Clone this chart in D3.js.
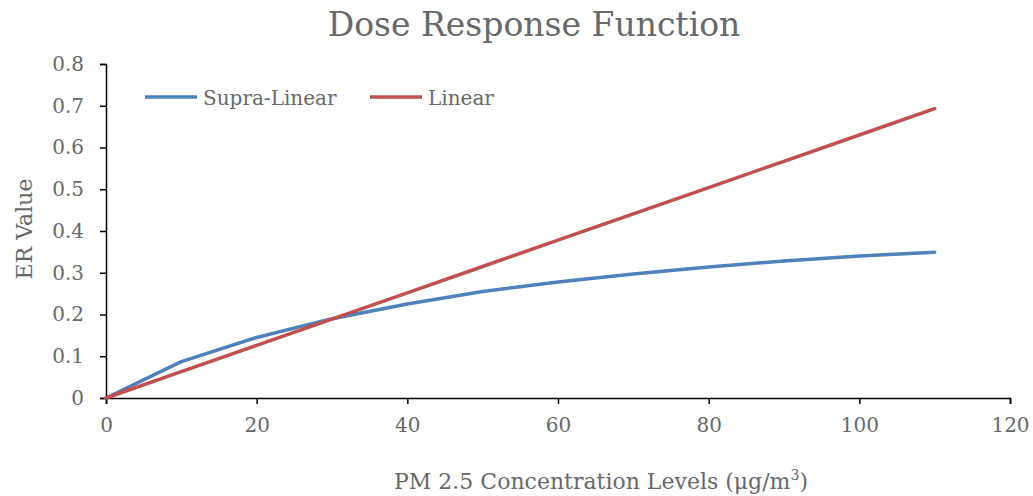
<!DOCTYPE html>
<html>
<head>
<meta charset="utf-8">
<script src="https://cdn.jsdelivr.net/npm/d3@7"></script>
<style>
  body { margin: 0; background: #fff; }
  text { font-family: "DejaVu Serif", serif; }
</style>
</head>
<body>
<div class="canvas"></div>
<script>
const concentration = [0, 10, 20, 30, 40, 50, 60, 70, 80, 90, 100, 110];
const supraLinear = [0, 0.087, 0.145, 0.19, 0.225, 0.255, 0.278, 0.297, 0.314, 0.328, 0.340, 0.349];
const linear = [0, 0.063, 0.126, 0.189, 0.252, 0.315, 0.378, 0.441, 0.504, 0.567, 0.630, 0.693];
const xTicks = [0, 20, 40, 60, 80, 100, 120];
const yTicks = [0, 0.1, 0.2, 0.3, 0.4, 0.5, 0.6, 0.7, 0.8];

const width = 1033, height = 496;
const margin = { top: 64, right: 23, bottom: 98, left: 106 };
const graphWidth = width - margin.left - margin.right;
const graphHeight = height - margin.top - margin.bottom;
const grey = "#686868";

const svg = d3.select(".canvas")
    .append("svg")
    .attr("width", width)
    .attr("height", height);

const graph = svg.append("g")
    .attr("transform", `translate(${margin.left}, ${margin.top})`);

const x = d3.scaleLinear().domain([0, 120]).range([0, graphWidth]);
const y = d3.scaleLinear().domain([0, 0.8]).range([graphHeight, 0]);

const xAxis = d3.axisBottom(x).tickValues(xTicks).tickSize(6).tickPadding(14).tickFormat(d3.format("d"));
const yAxis = d3.axisLeft(y).tickValues(yTicks).tickSize(6).tickPadding(16).tickFormat(d => d === 0 ? "0" : d3.format(".1f")(d));

const styleAxis = g => {
    g.select(".domain").attr("stroke", "#000").attr("stroke-width", 1.5);
    g.selectAll(".tick line").attr("stroke", "#000").attr("stroke-width", 1.5);
    g.selectAll(".tick text").attr("fill", grey).style("font-size", "20px")
        .style("font-family", "'DejaVu Serif', serif");
};

graph.append("g").attr("transform", `translate(0, ${graphHeight})`).call(xAxis).call(styleAxis);
graph.append("g").call(yAxis).call(styleAxis);

const series = [
    { name: "Supra-Linear", values: supraLinear, colour: "#4f81bd" },
    { name: "Linear", values: linear, colour: "#c0504d" }
];

const line = d3.line()
    .x((d, i) => x(concentration[i]))
    .y(d => y(d));

series.forEach(s => {
    graph.append("path")
        .datum(s.values)
        .attr("fill", "none")
        .attr("stroke", s.colour)
        .attr("stroke-width", 3.5)
        .attr("stroke-linejoin", "round")
        .attr("stroke-linecap", "round")
        .attr("d", line);
});

// legend
const legendX = [145, 370];
series.forEach((s, i) => {
    const lg = svg.append("g").attr("transform", `translate(${legendX[i]}, 97)`);
    lg.append("line").attr("x1", 0).attr("x2", 52).attr("y1", 0).attr("y2", 0)
        .attr("stroke", s.colour).attr("stroke-width", 3.5);
    lg.append("text").attr("x", 58).attr("y", 8).attr("fill", grey)
        .style("font-size", "20px").text(s.name);
});

// title
svg.append("text")
    .attr("x", 534).attr("y", 36)
    .attr("text-anchor", "middle")
    .attr("fill", grey)
    .style("font-size", "33px")
    .text("Dose Response Function");

// axis titles
svg.append("text")
    .attr("transform", "translate(32, 229) rotate(-90)")
    .attr("text-anchor", "middle")
    .attr("fill", grey)
    .style("font-size", "22px")
    .text("ER Value");

const xt = svg.append("text")
    .attr("x", 601).attr("y", 489)
    .attr("text-anchor", "middle")
    .attr("fill", grey)
    .style("font-size", "22px");
xt.append("tspan").text("PM 2.5 Concentration Levels (μg/m");
xt.append("tspan").attr("dy", -9).style("font-size", "14px").text("3");
xt.append("tspan").attr("dy", 9).text(")");
</script>
</body>
</html>
